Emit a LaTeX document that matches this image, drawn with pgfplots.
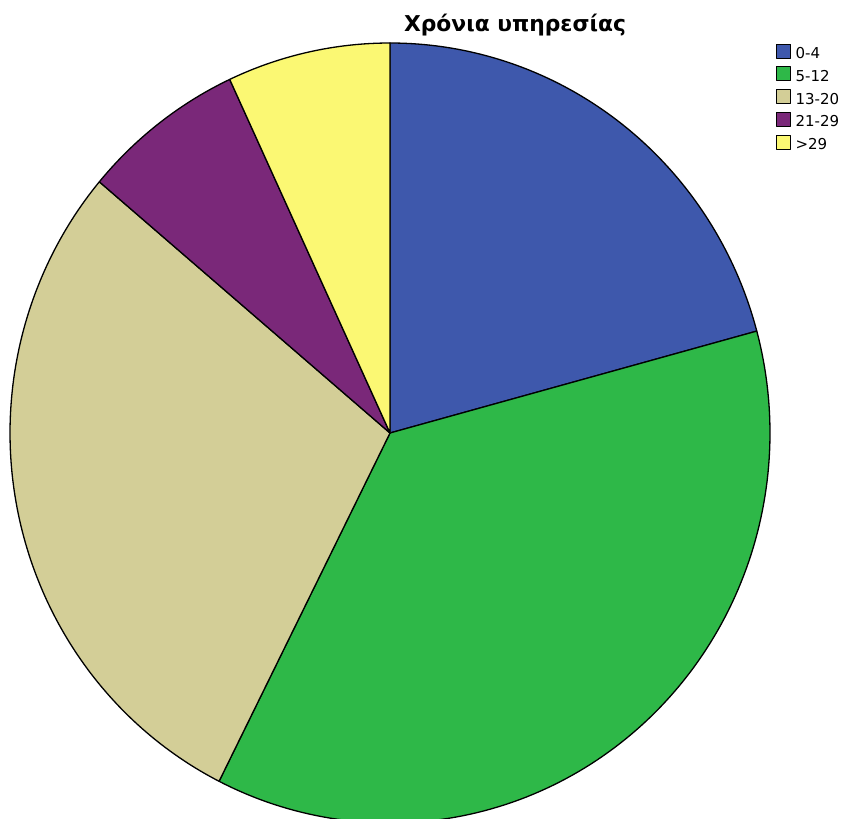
\documentclass[border=0pt]{standalone}
\usepackage{pgfplots}
\pgfplotsset{compat=1.18}
\usepackage{fontspec}
\setmainfont{DejaVu Sans}
\definecolor{cA}{RGB}{62,88,172}
\definecolor{cB}{RGB}{46,184,72}
\definecolor{cC}{RGB}{211,206,151}
\definecolor{cD}{RGB}{122,40,121}
\definecolor{cE}{RGB}{251,248,115}
% counts per category: 0-4, 5-12, 13-20, 21-29, >29
\def\nA{21}\def\nB{37}\def\nC{29}\def\nD{7}\def\nE{7}
\pgfmathsetmacro\N{\nA+\nB+\nC+\nD+\nE}
\pgfmathsetmacro\aA{90}
\pgfmathsetmacro\aB{\aA-360*\nA/\N}
\pgfmathsetmacro\aC{\aB-360*\nB/\N}
\pgfmathsetmacro\aD{\aC-360*\nC/\N}
\pgfmathsetmacro\aE{\aD-360*\nD/\N}
\pgfmathsetmacro\aF{\aE-360*\nE/\N}
\begin{document}
\begin{tikzpicture}
\begin{axis}[
  scale only axis, width=844pt, height=818pt,
  xmin=-1.02632, xmax=1.19474, ymin=-0.98718, ymax=1.11026,
  hide axis,
  every axis title shift=0pt,
  title={\bfseries Χρόνια υπηρεσίας},
  title style={at={(axis description cs:0.6102,0.9694)}, anchor=center,
    font=\fontsize{21.8}{26}\selectfont, inner sep=0pt},
  legend cell align=left,
  legend style={draw=none, fill=none, at={(axis description cs:0.9197,0.947)},
    anchor=north west, font=\fontsize{15}{18}\selectfont,
    nodes={text height=11pt, text depth=0pt, inner sep=1.5pt},
    row sep=6.5pt, column sep=3pt, inner sep=0pt},
  legend image code/.code={\draw[#1, line width=0.7pt, draw=black] (0pt,-5pt) rectangle (14pt,9pt);},
  every axis plot/.append style={draw=black, line width=1.3pt, samples=120, line join=round},
]
\path (rel axis cs:0,0) rectangle (rel axis cs:1,1);
\addplot[fill=cA, domain=\aB:\aA] ({cos(x)},{sin(x)}) -- (axis cs:0,0) -- cycle;
\addlegendentry{0-4}
\addplot[fill=cB, domain=\aC:\aB] ({cos(x)},{sin(x)}) -- (axis cs:0,0) -- cycle;
\addlegendentry{5-12}
\addplot[fill=cC, domain=\aD:\aC] ({cos(x)},{sin(x)}) -- (axis cs:0,0) -- cycle;
\addlegendentry{13-20}
\addplot[fill=cD, domain=\aE:\aD] ({cos(x)},{sin(x)}) -- (axis cs:0,0) -- cycle;
\addlegendentry{21-29}
\addplot[fill=cE, domain=\aF:\aE] ({cos(x)},{sin(x)}) -- (axis cs:0,0) -- cycle;
\addlegendentry{>29}
\end{axis}
\end{tikzpicture}
\end{document}
